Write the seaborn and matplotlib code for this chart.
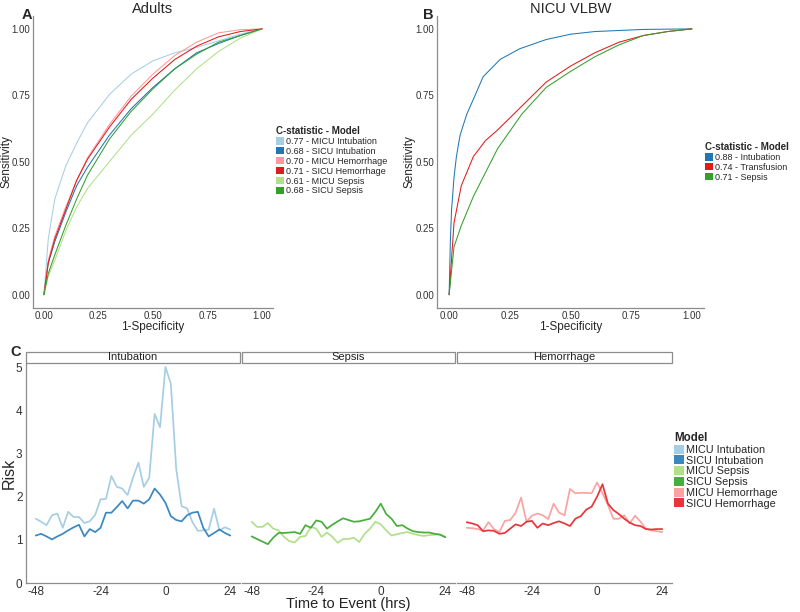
import numpy as np
import pandas as pd
import matplotlib
matplotlib.use("Agg")
import matplotlib.pyplot as plt
from matplotlib.patches import Patch, Rectangle
import seaborn as sns

sns.set_theme(style="white")
plt.rcParams['font.family'] = ['Liberation Sans', 'DejaVu Sans']

# ---------------- Panel A data (Adults ROC) ----------------
adult_models = ["MICU Intubation", "SICU Intubation", "MICU Hemorrhage",
                "SICU Hemorrhage", "MICU Sepsis", "SICU Sepsis"]
adult_cstat = ["0.77", "0.68", "0.70", "0.71", "0.61", "0.68"]
adult_fpr = [0, 0.02, 0.05, 0.1, 0.15, 0.2, 0.3, 0.4, 0.5, 0.6, 0.7, 0.8, 0.9, 1.0]
tpr_micu_intub = [0, 0.21, 0.36, 0.484, 0.57, 0.647, 0.753, 0.83, 0.88, 0.91, 0.93, 0.955, 0.98, 1.0]
tpr_sicu_intub = [0, 0.12, 0.20, 0.31, 0.41, 0.48, 0.60, 0.70, 0.78, 0.85, 0.91, 0.945, 0.975, 1.0]
tpr_micu_hem = [0, 0.13, 0.22, 0.33, 0.43, 0.515, 0.64, 0.747, 0.83, 0.90, 0.95, 0.985, 0.997, 1.0]
tpr_sicu_hem = [0, 0.12, 0.21, 0.32, 0.43, 0.51, 0.63, 0.735, 0.815, 0.885, 0.935, 0.97, 0.99, 1.0]
tpr_micu_sep = [0, 0.07, 0.13, 0.24, 0.33, 0.40, 0.50, 0.60, 0.68, 0.77, 0.85, 0.915, 0.965, 1.0]
tpr_sicu_sep = [0, 0.08, 0.15, 0.26, 0.36, 0.45, 0.585, 0.69, 0.775, 0.85, 0.905, 0.95, 0.975, 1.0]
adult_tprs = [tpr_micu_intub, tpr_sicu_intub, tpr_micu_hem, tpr_sicu_hem, tpr_micu_sep, tpr_sicu_sep]
adult_colors = ["#A6CEE3", "#1F78B4", "#FB9A99", "#E31A1C", "#B2DF8A", "#33A02C"]

# ---------------- Panel B data (NICU ROC) ----------------
nicu_models = ["Intubation", "Transfusion", "Sepsis"]
nicu_cstat = ["0.88", "0.74", "0.71"]
nicu_fpr_intub = [0, 0.005, 0.01, 0.02, 0.03, 0.045, 0.073, 0.107, 0.14, 0.21, 0.29, 0.4, 0.5, 0.6, 0.8, 1.0]
nicu_tpr_intub = [0, 0.20, 0.32, 0.44, 0.52, 0.60, 0.68, 0.75, 0.82, 0.885, 0.925, 0.96, 0.98, 0.99, 0.998, 1.0]
nicu_fpr = [0, 0.02, 0.05, 0.1, 0.15, 0.2, 0.3, 0.4, 0.5, 0.6, 0.7, 0.8, 0.9, 1.0]
nicu_tpr_transf = [0, 0.27, 0.41, 0.52, 0.58, 0.62, 0.71, 0.80, 0.86, 0.91, 0.95, 0.975, 0.99, 1.0]
nicu_tpr_sepsis = [0, 0.18, 0.26, 0.37, 0.46, 0.55, 0.68, 0.78, 0.84, 0.895, 0.94, 0.975, 0.99, 1.0]
nicu_colors = ["#1F78B4", "#E31A1C", "#33A02C"]

# ---------------- Panel C data (Risk over time) ----------------
hours = list(range(-48, 25, 2))
risk_micu_intub = [1.49, 1.42, 1.34, 1.57, 1.61, 1.28, 1.65, 1.53, 1.53, 1.39, 1.43, 1.58, 1.94,
                   1.95, 2.48, 2.23, 2.19, 2.04, 2.44, 2.79, 2.23, 2.44, 3.92, 3.61, 5.01, 4.62,
                   2.64, 1.78, 1.73, 1.41, 1.21, 1.22, 1.24, 1.72, 1.22, 1.29, 1.24]
risk_sicu_intub = [1.10, 1.14, 1.08, 1.01, 1.08, 1.14, 1.22, 1.29, 1.35, 1.08, 1.25, 1.18, 1.28,
                   1.63, 1.63, 1.76, 1.90, 1.73, 1.91, 1.91, 1.84, 1.94, 2.19, 2.05, 1.86, 1.55,
                   1.46, 1.43, 1.57, 1.63, 1.65, 1.28, 1.08, 1.16, 1.24, 1.16, 1.10]
risk_micu_sep = [1.42, 1.30, 1.30, 1.39, 1.26, 1.22, 1.07, 0.97, 0.94, 1.07, 1.09, 1.30, 1.26,
                 1.07, 1.17, 1.07, 0.93, 1.02, 1.02, 1.05, 0.95, 1.14, 1.26, 1.42, 1.36, 1.22,
                 1.10, 1.13, 1.16, 1.18, 1.14, 1.11, 1.09, 1.11, 1.12, 1.13, 1.07]
risk_sicu_sep = [1.08, 1.02, 0.96, 0.90, 1.05, 1.16, 1.16, 1.17, 1.18, 1.14, 1.34, 1.28, 1.45,
                 1.42, 1.26, 1.35, 1.43, 1.50, 1.46, 1.42, 1.43, 1.46, 1.49, 1.65, 1.84, 1.60,
                 1.49, 1.32, 1.34, 1.26, 1.20, 1.18, 1.17, 1.17, 1.14, 1.12, 1.06]
risk_micu_hem = [1.28, 1.27, 1.25, 1.22, 1.41, 1.25, 1.18, 1.44, 1.46, 1.63, 1.98, 1.42, 1.56,
                 1.61, 1.57, 1.48, 1.84, 1.63, 1.57, 2.18, 2.08, 2.09, 2.09, 2.08, 2.33, 2.08,
                 1.81, 1.49, 1.49, 1.57, 1.38, 1.56, 1.42, 1.26, 1.22, 1.20, 1.18]
risk_sicu_hem = [1.41, 1.38, 1.34, 1.20, 1.22, 1.21, 1.14, 1.16, 1.26, 1.36, 1.32, 1.42, 1.44,
                 1.28, 1.38, 1.34, 1.39, 1.43, 1.38, 1.32, 1.49, 1.55, 1.70, 1.77, 2.00, 2.29,
                 1.84, 1.69, 1.60, 1.49, 1.40, 1.34, 1.32, 1.25, 1.24, 1.25, 1.25]
facets = ["Intubation", "Sepsis", "Hemorrhage"]
c_models = ["MICU Intubation", "SICU Intubation", "MICU Sepsis", "SICU Sepsis",
            "MICU Hemorrhage", "SICU Hemorrhage"]
c_facet_of = ["Intubation", "Intubation", "Sepsis", "Sepsis", "Hemorrhage", "Hemorrhage"]
c_risks = [risk_micu_intub, risk_sicu_intub, risk_micu_sep, risk_sicu_sep, risk_micu_hem, risk_sicu_hem]
c_colors = ["#A6CEE3", "#3A88C0", "#B2DF8A", "#47AD3C", "#FBA3A2", "#E8353A"]

# ---------------- build frames ----------------
rows = []
for m, t in zip(adult_models, adult_tprs):
    for f, v in zip(adult_fpr, t):
        rows.append((m, f, v))
df_a = pd.DataFrame(rows, columns=["model", "fpr", "tpr"])

rows = []
for m, fl, tl in zip(nicu_models, [nicu_fpr_intub, nicu_fpr, nicu_fpr],
                     [nicu_tpr_intub, nicu_tpr_transf, nicu_tpr_sepsis]):
    for f, v in zip(fl, tl):
        rows.append((m, f, v))
df_b = pd.DataFrame(rows, columns=["model", "fpr", "tpr"])

rows = []
for m, fc, r in zip(c_models, c_facet_of, c_risks):
    for h, v in zip(hours, r):
        rows.append((m, fc, h, v))
df_c = pd.DataFrame(rows, columns=["model", "facet", "hour", "risk"])

W, H = 800, 612
fig = plt.figure(figsize=(8, 6.12), dpi=100)

def px_axes(x0, y0, x1, y1):
    return fig.add_axes([x0 / W, 1 - y1 / H, (x1 - x0) / W, (y1 - y0) / H])

GRAY = "#8c8c8c"

def style_axes(ax, left=True, pad=1, length=2):
    for s in ["top", "right"]:
        ax.spines[s].set_visible(False)
    ax.spines["bottom"].set_color(GRAY)
    ax.spines["bottom"].set_linewidth(0.9)
    if left:
        ax.spines["left"].set_color(GRAY)
        ax.spines["left"].set_linewidth(0.9)
    else:
        ax.spines["left"].set_visible(False)
    ax.grid(False)
    ax.tick_params(axis="both", which="both", length=length, width=0.6, color=GRAY,
                   pad=pad, labelcolor="#333333")

tick_lbls = ["0.00", "0.25", "0.50", "0.75", "1.00"]
ticks = [0, 0.25, 0.5, 0.75, 1.0]

def roc_axes(ax, df, order, colors, title, ylab_x):
    sns.lineplot(data=df, x="fpr", y="tpr", hue="model", hue_order=order,
                 palette=colors, estimator=None, sort=False, lw=0.75, legend=False, ax=ax)
    ax.set_xlim(-0.05, 1.05)
    ax.set_ylim(-0.05, 1.05)
    ax.set_xticks(ticks)
    ax.set_yticks(ticks)
    ax.set_xticklabels(tick_lbls, fontsize=7)
    ax.set_yticklabels(tick_lbls, fontsize=7)
    ax.set_xlabel("1-Specificity", fontsize=8.5, labelpad=0)
    ax.set_ylabel("Sensitivity", fontsize=8.5)
    ax.yaxis.set_label_coords(ylab_x, 0.5)
    ax.set_title(title, fontsize=10.5, pad=2)
    style_axes(ax, pad=0.5, length=1.5)

# ---------------- Panel A ----------------
axA = px_axes(33, 15.6, 273, 308)
roc_axes(axA, df_a, adult_models, adult_colors, "Adults", (12.5 - 33) / 240)

# ---------------- Panel B ----------------
axB = px_axes(437, 15.6, 704, 308)
roc_axes(axB, df_b, nicu_models, nicu_colors, "NICU VLBW", (415 - 437) / 267)

# ---------------- Panel C ----------------
c_bounds = [(26, 240), (242, 455), (457, 672)]
pal_c = dict(zip(c_models, c_colors))
for i, (fc, (x0, x1)) in enumerate(zip(facets, c_bounds)):
    ax = px_axes(x0, 363, x1, 583)
    sub = df_c[df_c["facet"] == fc]
    order = [m for m, f in zip(c_models, c_facet_of) if f == fc]
    sns.lineplot(data=sub, x="hour", y="risk", hue="model", hue_order=order,
                 palette=pal_c, estimator=None, sort=False, lw=1.25, legend=False, ax=ax)
    ax.set_xlim(-51.6, 27.6)
    ax.set_ylim(0, 5.1)
    ax.set_xticks([-48, -24, 0, 24])
    ax.set_xticklabels(["-48", "-24", "0", "24"], fontsize=8.5)
    ax.set_xlabel("")
    ax.set_ylabel("")
    if i == 0:
        ax.set_yticks([0, 1, 2, 3, 4, 5])
        ax.set_yticklabels(["0", "1", "2", "3", "4", "5"], fontsize=8.5)
        ax.set_ylabel("Risk", fontsize=11.5)
        ax.yaxis.set_label_coords((16.5 - 26) / 214, 0.5)
        style_axes(ax, left=True, pad=0.5)
    else:
        ax.set_yticks([])
        style_axes(ax, left=False, pad=0.5)
    # facet strip
    strip_h = 11 / 220
    ax.add_patch(Rectangle((0, 1.0), 1, strip_h, transform=ax.transAxes, clip_on=False,
                           facecolor="white", edgecolor=GRAY, lw=0.9))
    ax.text(0.5, 1.0 + strip_h / 2, fc, transform=ax.transAxes, ha="center", va="center",
            fontsize=8, color="#222222")

fig.text(348 / W, 1 - 604 / H, "Time to Event (hrs)", ha="center", va="center", fontsize=10.5,
         color="#222222")

# ---------------- legends ----------------
def add_legend(labels, colors, title, anchor, fs, keysize, spacing):
    handles = [Patch(facecolor=c, edgecolor="none") for c in colors]
    leg = fig.legend(handles, labels, title=title, loc="upper left",
                     bbox_to_anchor=anchor, frameon=False, fontsize=fs,
                     title_fontproperties={"weight": "bold", "size": fs + 0.5},
                     handlelength=keysize, handleheight=keysize, handletextpad=0.25,
                     labelspacing=spacing, borderpad=0, borderaxespad=0)
    leg._legend_box.align = "left"
    return leg

add_legend([f"{c} - {m}" for c, m in zip(adult_cstat, adult_models)], adult_colors,
           "C-statistic - Model", (276 / W, 1 - 126 / H), 6.5, 0.9, 0.1)
add_legend([f"{c} - {m}" for c, m in zip(nicu_cstat, nicu_models)], nicu_colors,
           "C-statistic - Model", (705 / W, 1 - 142 / H), 6.5, 0.9, 0.1)
add_legend(c_models, c_colors, "Model", (674 / W, 1 - 432 / H), 7.8, 0.9, 0.05)

# panel letters
fig.text(22 / W, 1 - 15 / H, "A", fontsize=10.5, fontweight="bold", ha="left", va="center")
fig.text(423 / W, 1 - 15 / H, "B", fontsize=10.5, fontweight="bold", ha="left", va="center")
fig.text(10 / W, 1 - 352 / H, "C", fontsize=10.5, fontweight="bold", ha="left", va="center")

fig.savefig("out.png", dpi=100, facecolor="white")
